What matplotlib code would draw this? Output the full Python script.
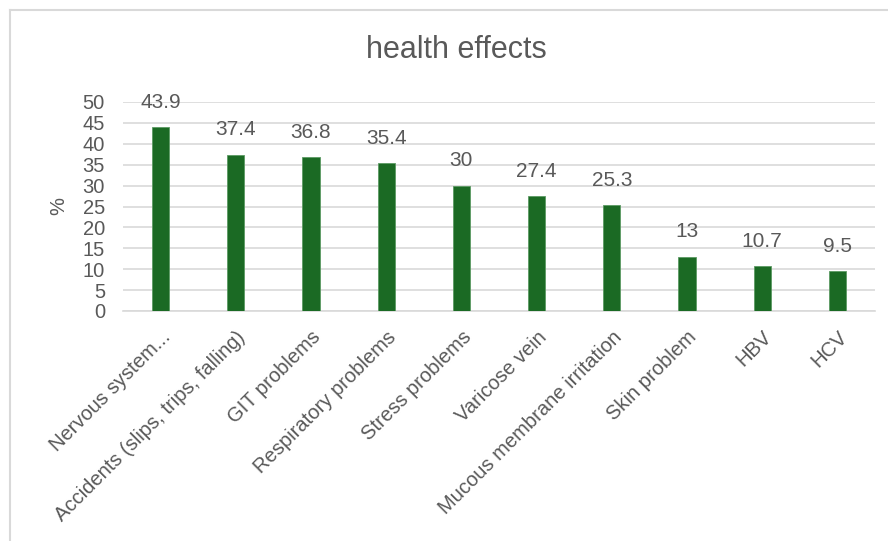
import matplotlib.pyplot as plt
from matplotlib.lines import Line2D

categories = ["Nervous system...", "Accidents (slips, trips, falling)", "GIT problems",
              "Respiratory problems", "Stress problems", "Varicose vein",
              "Mucous membrane irritation", "Skin problem", "HBV", "HCV"]
values = [43.9, 37.4, 36.8, 35.4, 30, 27.4, 25.3, 13, 10.7, 9.5]
value_labels = ["43.9", "37.4", "36.8", "35.4", "30", "27.4", "25.3", "13", "10.7", "9.5"]
yticks = [0, 5, 10, 15, 20, 25, 30, 35, 40, 45, 50]

txt = "#595959"
grid = "#d9d9d9"
bar_color = "#1b6a24"

plt.rcParams['font.family'] = ['Liberation Sans', 'DejaVu Sans']

fig = plt.figure(figsize=(8.88, 5.41), dpi=100)
ax = fig.add_axes([123 / 888, 1 - 311 / 541, (875 - 123) / 888, (311 - 102) / 541])

x = list(range(len(categories)))
ax.bar(x, values, width=0.23, color=bar_color, edgecolor="#5c9a63", linewidth=0.6, zorder=3)

for xi, v, lab in zip(x, values, value_labels):
    ax.annotate(lab, (xi, v), xytext=(0, 11), textcoords="offset points",
                ha="center", va="bottom", fontsize=15, color=txt)

ax.set_xlim(-0.5, len(categories) - 0.5)
ax.set_ylim(0, 50)
ax.set_yticks(yticks)
ax.tick_params(axis="y", length=0, pad=13, labelsize=14.5, labelcolor=txt)
ax.set_xticks(x)
ax.set_xticklabels(categories, rotation=45, ha="right", rotation_mode="anchor",
                   fontsize=14.5, color=txt)
ax.tick_params(axis="x", length=0, pad=12)
ax.yaxis.grid(True, color=grid, linewidth=1.2, zorder=0)
for s in ["top", "right", "left"]:
    ax.spines[s].set_visible(False)
ax.spines["bottom"].set_color(grid)
ax.spines["bottom"].set_linewidth(1.2)

ax.set_ylabel("%", fontsize=14.5, color=txt, labelpad=10)
fig.text(456 / 888, 1 - 50 / 541, "health effects", ha="center", va="center",
         fontsize=22, color=txt)

# outer chart border (light gray, cut off at right/bottom)
fig.add_artist(Line2D([10 / 888, 10 / 888], [1 - 10 / 541, 0], transform=fig.transFigure,
                      color=grid, linewidth=1.5))
fig.add_artist(Line2D([10 / 888, 1], [1 - 10 / 541, 1 - 10 / 541], transform=fig.transFigure,
                      color=grid, linewidth=1.5))

fig.savefig("out.png", dpi=100)
